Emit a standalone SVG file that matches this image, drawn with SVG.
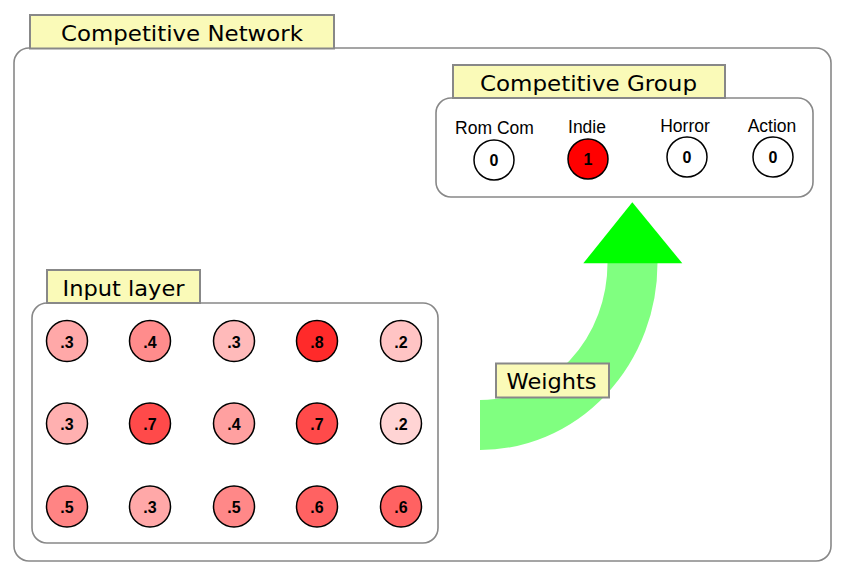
<svg xmlns="http://www.w3.org/2000/svg" width="844" height="586" viewBox="0 0 844 586">
<style>
.box{fill:#ffffff;stroke:#888888;stroke-width:1.6}
.tag{fill:#fafab8;stroke:#888888;stroke-width:2}
.tagt{font-family:"DejaVu Sans",Verdana,sans-serif;font-size:22px;fill:#000000}
.unit{stroke:#000000;stroke-width:1.5}
.num{font-family:"Liberation Sans",Arial,sans-serif;font-size:16px;font-weight:bold;fill:#000000;text-anchor:middle}
.name{font-family:"Liberation Sans",Arial,sans-serif;font-size:17.5px;fill:#000000;text-anchor:middle}
</style>
<rect width="844" height="586" fill="#ffffff"/>
<g id="competitive-network">
<rect class="box" x="14" y="48" width="817" height="513" rx="15"/>
<rect class="tag" x="30" y="15" width="304" height="33.5"/>
<text class="tagt" x="61" y="41" textLength="242" lengthAdjust="spacingAndGlyphs">Competitive Network</text>
</g>
<g id="competitive-group">
<rect class="box" x="436" y="98" width="377" height="99" rx="15"/>
<rect class="tag" x="453" y="65" width="272" height="33"/>
<text class="tagt" x="480" y="90.5" textLength="217" lengthAdjust="spacingAndGlyphs">Competitive Group</text>
</g>
<g id="out-romcom"><text class="name" x="494.5" y="134">Rom Com</text><circle class="unit" cx="494" cy="160" r="20" fill="#ffffff"/><text class="num" x="494" y="166">0</text></g>
<g id="out-indie"><text class="name" x="587" y="133">Indie</text><circle class="unit" cx="588" cy="159" r="20" fill="#ff0000"/><text class="num" x="588" y="165">1</text></g>
<g id="out-horror"><text class="name" x="685" y="131.5">Horror</text><circle class="unit" cx="687" cy="157" r="20" fill="#ffffff"/><text class="num" x="687" y="163">0</text></g>
<g id="out-action"><text class="name" x="772" y="131.5">Action</text><circle class="unit" cx="773" cy="157" r="20" fill="#ffffff"/><text class="num" x="773" y="163">0</text></g>
<g id="input-layer">
<rect class="box" x="32" y="303" width="406" height="240" rx="15"/>
<rect class="tag" x="47" y="270" width="153" height="33"/>
<text class="tagt" x="62.5" y="296" textLength="122" lengthAdjust="spacingAndGlyphs">Input layer</text>
</g>
<g id="in-1-1"><circle class="unit" cx="67" cy="341" r="20.5" fill="#ffa8a8"/><text class="num" x="67" y="347.5">.3</text></g>
<g id="in-1-2"><circle class="unit" cx="150" cy="341" r="20.5" fill="#ff8c8c"/><text class="num" x="150" y="347.5">.4</text></g>
<g id="in-1-3"><circle class="unit" cx="234" cy="341" r="20.5" fill="#ffbaba"/><text class="num" x="234" y="347.5">.3</text></g>
<g id="in-1-4"><circle class="unit" cx="317" cy="341" r="20.5" fill="#ff2a2a"/><text class="num" x="317" y="347.5">.8</text></g>
<g id="in-1-5"><circle class="unit" cx="401" cy="341" r="20.5" fill="#ffc4c4"/><text class="num" x="401" y="347.5">.2</text></g>
<g id="in-2-1"><circle class="unit" cx="67" cy="423.5" r="20.5" fill="#ffb0b0"/><text class="num" x="67" y="430">.3</text></g>
<g id="in-2-2"><circle class="unit" cx="150" cy="423.5" r="20.5" fill="#ff4a4a"/><text class="num" x="150" y="430">.7</text></g>
<g id="in-2-3"><circle class="unit" cx="234" cy="423.5" r="20.5" fill="#ffa0a0"/><text class="num" x="234" y="430">.4</text></g>
<g id="in-2-4"><circle class="unit" cx="317" cy="423.5" r="20.5" fill="#ff4a4a"/><text class="num" x="317" y="430">.7</text></g>
<g id="in-2-5"><circle class="unit" cx="401" cy="423.5" r="20.5" fill="#ffd4d4"/><text class="num" x="401" y="430">.2</text></g>
<g id="in-3-1"><circle class="unit" cx="67" cy="506.5" r="20.5" fill="#ff8484"/><text class="num" x="67" y="513">.5</text></g>
<g id="in-3-2"><circle class="unit" cx="150" cy="506.5" r="20.5" fill="#ffa8a8"/><text class="num" x="150" y="513">.3</text></g>
<g id="in-3-3"><circle class="unit" cx="234" cy="506.5" r="20.5" fill="#ff8888"/><text class="num" x="234" y="513">.5</text></g>
<g id="in-3-4"><circle class="unit" cx="317" cy="506.5" r="20.5" fill="#ff6262"/><text class="num" x="317" y="513">.6</text></g>
<g id="in-3-5"><circle class="unit" cx="401" cy="506.5" r="20.5" fill="#ff6262"/><text class="num" x="401" y="513">.6</text></g>
<g id="connectors">
<path d="M 480 425 A 152.5 162 0 0 0 632.5 263" fill="none" stroke="#80ff80" stroke-width="50"/>
<polygon points="632.3,202.3 583.3,263.3 682.3,263.3" fill="#00ff00"/>
<rect class="tag" x="496" y="363.5" width="113" height="34"/>
<text class="tagt" x="506.5" y="389" textLength="90" lengthAdjust="spacingAndGlyphs">Weights</text>
</g>
</svg>
